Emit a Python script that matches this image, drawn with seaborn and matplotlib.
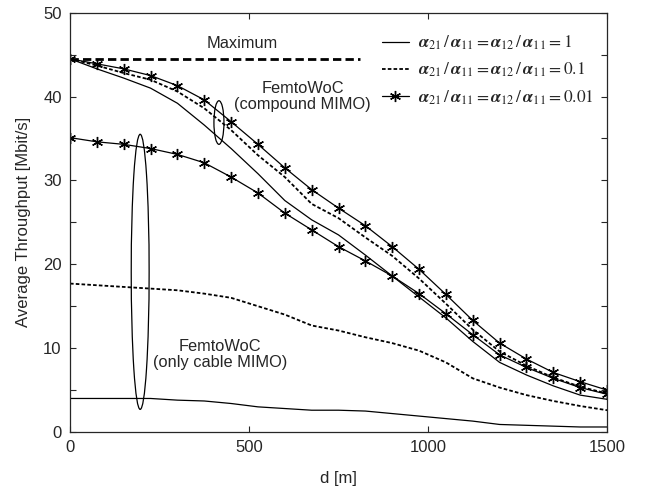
import numpy as np
import pandas as pd
import seaborn as sns
import matplotlib.pyplot as plt
from matplotlib.patches import Ellipse

# distance grid [m]
d = list(range(0, 1501, 75))

# FemtoWoC compound MIMO
comp_a1 = [44.5, 43.3, 42.2, 41.0, 39.2, 36.6, 33.8, 30.8, 27.6, 25.3, 23.5,
           21.1, 18.6, 16.1, 13.6, 10.8, 8.3, 6.8, 5.5, 4.4, 3.9]
comp_a01 = [44.5, 43.7, 42.8, 42.0, 40.6, 38.6, 36.0, 33.0, 30.4, 27.2, 25.5,
            23.2, 21.0, 18.3, 15.3, 12.2, 9.6, 7.9, 6.5, 5.4, 4.6]
comp_a001 = [44.5, 43.9, 43.3, 42.5, 41.3, 39.6, 37.0, 34.3, 31.5, 28.9, 26.7,
             24.6, 22.1, 19.4, 16.4, 13.3, 10.6, 8.7, 7.1, 6.0, 5.0]

# FemtoWoC only cable MIMO
cab_a1 = [4.0, 4.0, 4.0, 4.0, 3.8, 3.7, 3.4, 3.0, 2.8, 2.6, 2.6,
          2.5, 2.2, 1.9, 1.6, 1.3, 0.9, 0.8, 0.7, 0.6, 0.6]
cab_a01 = [17.7, 17.5, 17.3, 17.1, 16.9, 16.5, 16.0, 15.0, 14.0, 12.7, 12.1,
           11.3, 10.6, 9.7, 8.3, 6.4, 5.3, 4.4, 3.7, 3.1, 2.6]
cab_a001 = [35.1, 34.6, 34.3, 33.8, 33.1, 32.1, 30.4, 28.5, 26.1, 24.1, 22.1,
            20.4, 18.6, 16.5, 14.1, 11.6, 9.2, 7.7, 6.4, 5.3, 4.5]

max_d = [0, 810]
max_val = [44.5, 44.5]

labels = [r'$\alpha_{21}\,/\,\alpha_{11}=\alpha_{12}\,/\,\alpha_{11}=1$',
          r'$\alpha_{21}\,/\,\alpha_{11}=\alpha_{12}\,/\,\alpha_{11}=0.1$',
          r'$\alpha_{21}\,/\,\alpha_{11}=\alpha_{12}\,/\,\alpha_{11}=0.01$']

sns.set_style("ticks")
plt.rcParams['font.family'] = ['Liberation Sans', 'DejaVu Sans']
plt.rcParams['mathtext.fontset'] = 'custom'
plt.rcParams['mathtext.it'] = 'STIXGeneral:italic:bold'
plt.rcParams['mathtext.rm'] = 'STIXGeneral'
plt.rcParams['mathtext.bf'] = 'STIXGeneral:bold'

fig = plt.figure(figsize=(6.5, 4.87), dpi=100)
ax = fig.add_axes([0.1077, 0.1129, 0.8262, 0.8611])

star = (6, 2, 0)
solid = dict(color='k', lw=0.9, linestyle='-', marker='None')
dash = dict(color='k', lw=1.3, linestyle=(0, (2, 1.2)), marker='None')
starred = dict(color='k', lw=0.9, linestyle='-', marker=star, markersize=8,
               markeredgewidth=1.0, markeredgecolor='k')


def draw(x, y, style):
    line = sns.lineplot(x=x, y=y, ax=ax).lines[-1]
    line.set(**style)
    return line


h1 = draw(d, comp_a1, solid)
h2 = draw(d, comp_a01, dash)
h3 = draw(d, comp_a001, starred)
draw(d, cab_a1, solid)
draw(d, cab_a01, dash)
draw(d, cab_a001, starred)
draw(max_d, max_val, dict(color='k', lw=2, linestyle=(0, (3, 1.5))))

ax.text(480, 46.3, 'Maximum', ha='center', va='center', fontsize=11.8)
ax.text(650, 40.0, 'FemtoWoC\n(compound MIMO)', ha='center', va='center',
        fontsize=11.8, linespacing=1.1)
ax.text(420, 9.2, 'FemtoWoC\n(only cable MIMO)', ha='center', va='center',
        fontsize=11.8, linespacing=1.1)

ax.add_patch(Ellipse((416, 36.9), 28, 5.2, fill=False, color='k', lw=0.9))
ax.add_patch(Ellipse((196, 19.1), 50, 32.8, fill=False, color='k', lw=0.9))

ax.set_xlim(0, 1500)
ax.set_ylim(0, 50)
ax.set_xticks([0, 500, 1000, 1500])
ax.set_yticks([0, 10, 20, 30, 40, 50])
ax.set_yticks([5, 15, 25, 35, 45], minor=True)
ax.tick_params(direction='in', top=True, right=True, labelsize=12, length=4, width=0.8, pad=6)
ax.tick_params(which='minor', direction='in', right=True, length=4, width=0.8)
for s in ax.spines.values():
    s.set_visible(True)
    s.set_linewidth(0.9)
ax.set_xlabel('d [m]', fontsize=12, labelpad=11)
ax.set_ylabel('Average Throughput [Mbit/s]', fontsize=12, labelpad=9)

ax.legend([h1, h2, h3], labels, loc='upper right', bbox_to_anchor=(0.995, 0.974),
          frameon=False, fontsize=12.5, handlelength=1.6, labelspacing=0.5,
          handletextpad=0.5, borderaxespad=0.2)

fig.savefig('out.png', dpi=100)
